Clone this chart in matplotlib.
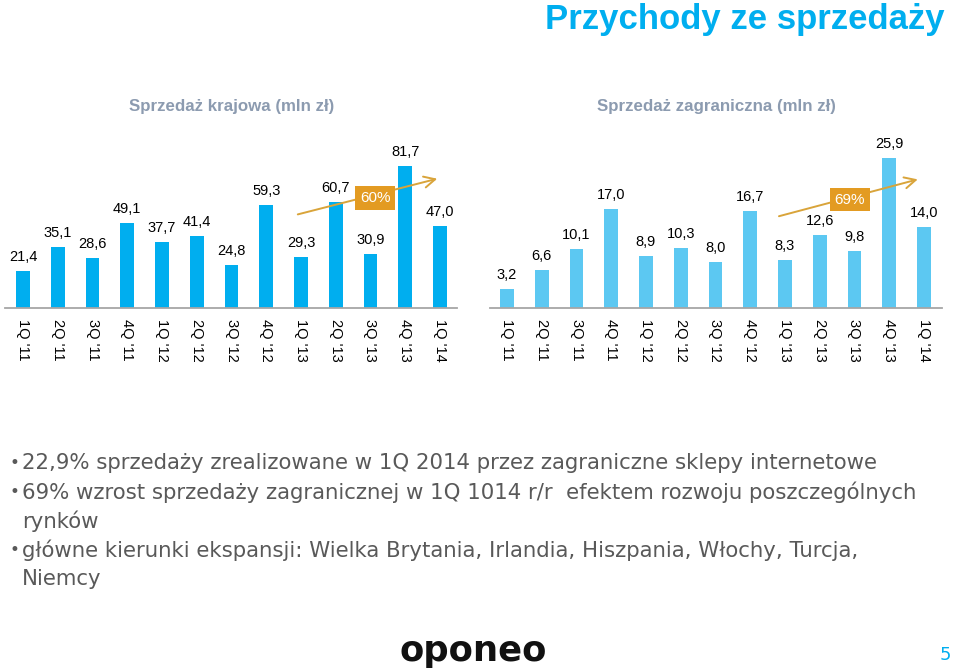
import matplotlib
matplotlib.use("Agg")
import matplotlib.pyplot as plt

# dane
kwartaly = ["1Q '11", "2Q '11", "3Q '11", "4Q '11", "1Q '12", "2Q '12", "3Q '12",
            "4Q '12", "1Q '13", "2Q '13", "3Q '13", "4Q '13", "1Q '14"]
krajowa = [21.4, 35.1, 28.6, 49.1, 37.7, 41.4, 24.8, 59.3, 29.3, 60.7, 30.9, 81.7, 47.0]
zagraniczna = [3.2, 6.6, 10.1, 17.0, 8.9, 10.3, 8.0, 16.7, 8.3, 12.6, 9.8, 25.9, 14.0]
wzrost_kraj = "60%"
wzrost_zagr = "69%"

# kazdy punkt jako lista linii
punkty = [
    ["22,9% sprzedaży zrealizowane w 1Q 2014 przez zagraniczne sklepy internetowe"],
    ["69% wzrost sprzedaży zagranicznej w 1Q 1014 r/r  efektem rozwoju poszczególnych",
     "rynków"],
    ["główne kierunki ekspansji: Wielka Brytania, Irlandia, Hiszpania, Włochy, Turcja,",
     "Niemcy"],
]

W, H = 960, 671
fig = plt.figure(figsize=(W / 100, H / 100), dpi=100)
fig.patch.set_facecolor("white")

BLUE = "#00AEEF"
LIGHT = "#5CC8F2"
GOLD = "#D9A43A"
BOX = "#E39B22"


def px_axes(x0, x1, y_top, y_base):
    return fig.add_axes([x0 / W, 1 - y_base / H, (x1 - x0) / W, (y_base - y_top) / H])


def panel(ax, values, color, scale, xlim, growth, arrow, box):
    x = range(len(values))
    ax.bar(x, values, width=0.4, color=color, zorder=2)
    ax.set_xlim(*xlim)
    ax.set_ylim(0, 160 / scale)
    for i, v in enumerate(values):
        ax.annotate(f"{v:.1f}".replace(".", ","), (i, v), xytext=(0, 5),
                    textcoords="offset points", ha="center", va="bottom",
                    fontsize=10.5, family="Liberation Sans")
    for s in ["top", "right", "left"]:
        ax.spines[s].set_visible(False)
    ax.spines["bottom"].set_color("#A6A6A6")
    ax.spines["bottom"].set_linewidth(1.3)
    ax.set_yticks([])
    ax.set_xticks(list(x))
    ax.set_xticklabels(kwartaly, rotation=270, fontsize=10.5, family="Liberation Sans")
    ax.tick_params(axis="x", length=0, pad=8)
    (xa, ya), (xb, yb) = arrow
    ax.annotate("", xy=(xb, yb), xytext=(xa, ya),
                arrowprops=dict(arrowstyle="->,head_length=0.8,head_width=0.4",
                                color=GOLD, lw=1.4), zorder=3)
    ax.text(box[0], box[1], growth,
            ha="center", va="center", color="white", fontsize=11,
            family="Liberation Sans", zorder=4,
            bbox=dict(boxstyle="square,pad=0.3", fc=BOX, ec="none"))


ax1 = px_axes(5, 457, 148, 308)
panel(ax1, krajowa, BLUE, 1.74, (-0.52, 12.49), wzrost_kraj,
      ((7.83, 53.4), (12.0, 74.7)), (10.13, 63.2))

ax2 = px_axes(490, 942, 148, 308)
panel(ax2, zagraniczna, LIGHT, 5.8, (-0.49, 12.52), wzrost_zagr,
      ((7.75, 15.7), (11.9, 22.3)), (9.87, 18.7))

# tytuly
fig.text(945 / W, 1 - 19 / H, "Przychody ze sprzedaży", ha="right", va="center",
         color=BLUE, fontsize=25, fontweight="bold", family="Liberation Sans")
fig.text(232 / W, 1 - 106 / H, "Sprzedaż krajowa (mln zł)", ha="center", va="center",
         color="#8C9BB0", fontsize=12.2, fontweight="bold", family="Liberation Sans")
fig.text(716 / W, 1 - 106 / H, "Sprzedaż zagraniczna (mln zł)", ha="center", va="center",
         color="#8C9BB0", fontsize=12.2, fontweight="bold", family="Liberation Sans")

# punkty
y = 463
for linie in punkty:
    fig.text(9 / W, 1 - y / H, "•", ha="left", va="center", color="#595959", fontsize=12)
    for linia in linie:
        fig.text(22 / W, 1 - y / H, linia, ha="left", va="center",
                 color="#595959", fontsize=15.3, family="DejaVu Sans")
        y += 29

# logo i numer strony
fig.text(473 / W, 1 - 651 / H, "oponeo", ha="center", va="center", color="#111111",
         fontsize=25.5, fontweight="bold", family="DejaVu Sans")
fig.text(945 / W, 1 - 655 / H, "5", ha="center", va="center", color=BLUE, fontsize=13)

fig.savefig("out.png", dpi=100, facecolor="white")
